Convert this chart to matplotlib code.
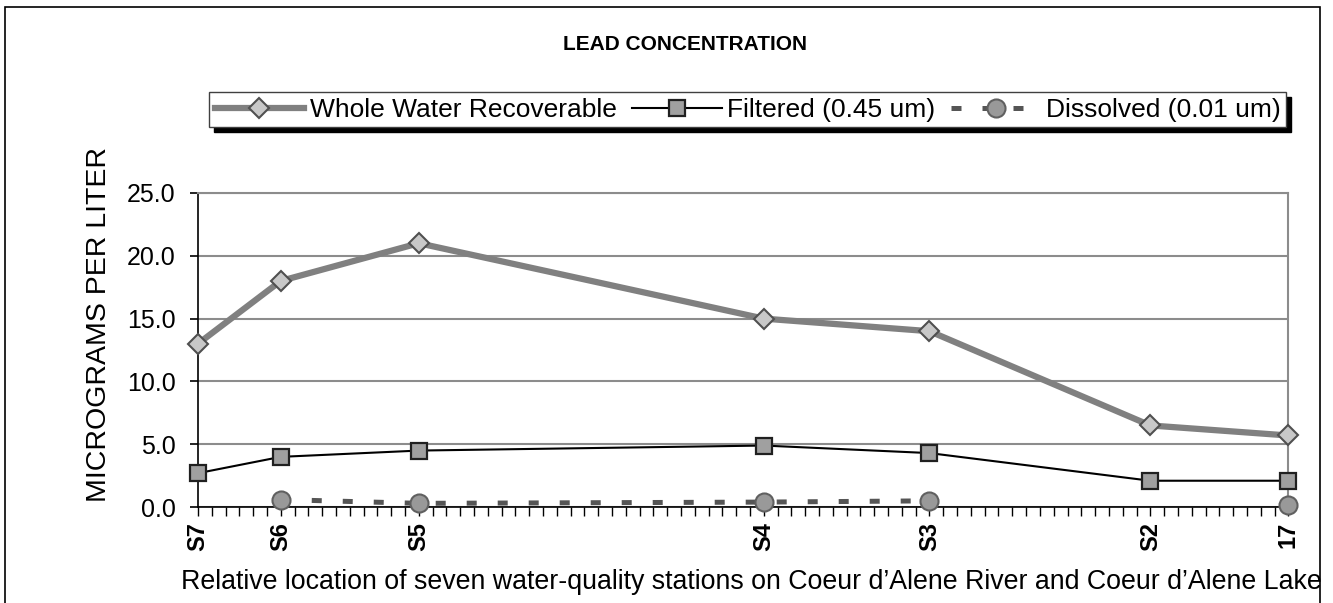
import matplotlib.pyplot as plt
import numpy as np
from matplotlib.patches import Rectangle

plt.rcParams['font.family'] = ['Liberation Sans', 'DejaVu Sans']

# station labels and their relative position along the river
stations = ['S7', 'S6', 'S5', 'S4', 'S3', 'S2', '17']
positions = [0, 6, 16, 41, 53, 69, 79]

whole = [13.0, 18.0, 21.0, 15.0, 14.0, 6.5, 5.7]
filtered = [2.7, 4.0, 4.5, 4.9, 4.3, 2.1, 2.1]
dissolved = [np.nan, 0.6, 0.3, 0.4, 0.5, np.nan, 0.2]

fig = plt.figure(figsize=(13.33, 6.03), dpi=100)
ax = fig.add_axes([0.1485, 0.159, 0.818, 0.521])

ax.plot(positions, whole, color='#808080', lw=4.5, marker='D', ms=10,
        mfc='#c8c8c8', mec='#505050', mew=1.5, label='Whole Water Recoverable',
        zorder=4, clip_on=False)
ax.plot(positions, filtered, color='black', lw=1.5, marker='s', ms=11,
        mfc='#a0a0a0', mec='#202020', mew=1.6, label='Filtered (0.45 um)',
        zorder=5, clip_on=False)
ax.plot(positions, dissolved, color='#555555', lw=3.6, ls=(0, (2, 4.2)), dash_capstyle='butt',
        marker='o', ms=13, mfc='#999999', mec='#606060', mew=1.5,
        label='Dissolved (0.01 um)', zorder=6, clip_on=False)

ax.set_xlim(0, 79)
ax.set_ylim(0, 25)
ax.set_yticks(np.arange(0, 26, 5))
ax.set_yticklabels([f'{v:.1f}' for v in np.arange(0, 26, 5)], fontsize=18)
ax.set_xticks(positions)
ax.set_xticklabels(stations, rotation=90, fontweight='bold', fontsize=17)
ax.set_xticks(np.arange(0, 80, 1), minor=True)
ax.tick_params(axis='x', which='both', direction='out', length=6.5, width=1, color='black', pad=4)
ax.tick_params(axis='y', direction='out', length=6, width=1.2, pad=10)

ax.yaxis.grid(True, color='#8c8c8c', lw=1.5)
ax.set_axisbelow(True)
for s in ['left', 'bottom']:
    ax.spines[s].set_color('black')
    ax.spines[s].set_linewidth(1.2)
for s in ['top', 'right']:
    ax.spines[s].set_color('#8c8c8c')
    ax.spines[s].set_linewidth(1.5)

fig.text(0.074, 0.462, 'MICROGRAMS PER LITER', rotation=90, ha='center', va='center', fontsize=20.5)
fig.text(0.564, 0.035, 'Relative location of seven water-quality stations on Coeur d\u2019Alene River and Coeur d\u2019Alene Lake',
         ha='center', va='center', fontsize=19.3)
fig.text(0.514, 0.927, 'LEAD CONCENTRATION', ha='center', va='center', fontsize=15, fontweight='bold')

leg = fig.legend(loc='center', bbox_to_anchor=(0.561, 0.818), ncol=3, fontsize=19,
                 frameon=True, fancybox=False, edgecolor='#404040', framealpha=1,
                 handlelength=3.4, handletextpad=0.2, columnspacing=0.6, borderpad=0.2)
leg.get_frame().set_linewidth(1)

# black drop shadow behind the legend box
fig.canvas.draw()
bb = leg.get_window_extent().transformed(fig.transFigure.inverted())
fig.patches.append(Rectangle((bb.x0 + 5 / 1333, bb.y0 - 5 / 603), bb.width, bb.height,
                             transform=fig.transFigure, color='black', zorder=leg.get_zorder() - 0.1))

# outer border
fig.patches.append(Rectangle((5 / 1333, -0.02), 1315 / 1333, 1.02 - 7 / 603, transform=fig.transFigure,
                             fill=False, edgecolor='black', lw=1.2))

fig.savefig('out.png', dpi=100)
